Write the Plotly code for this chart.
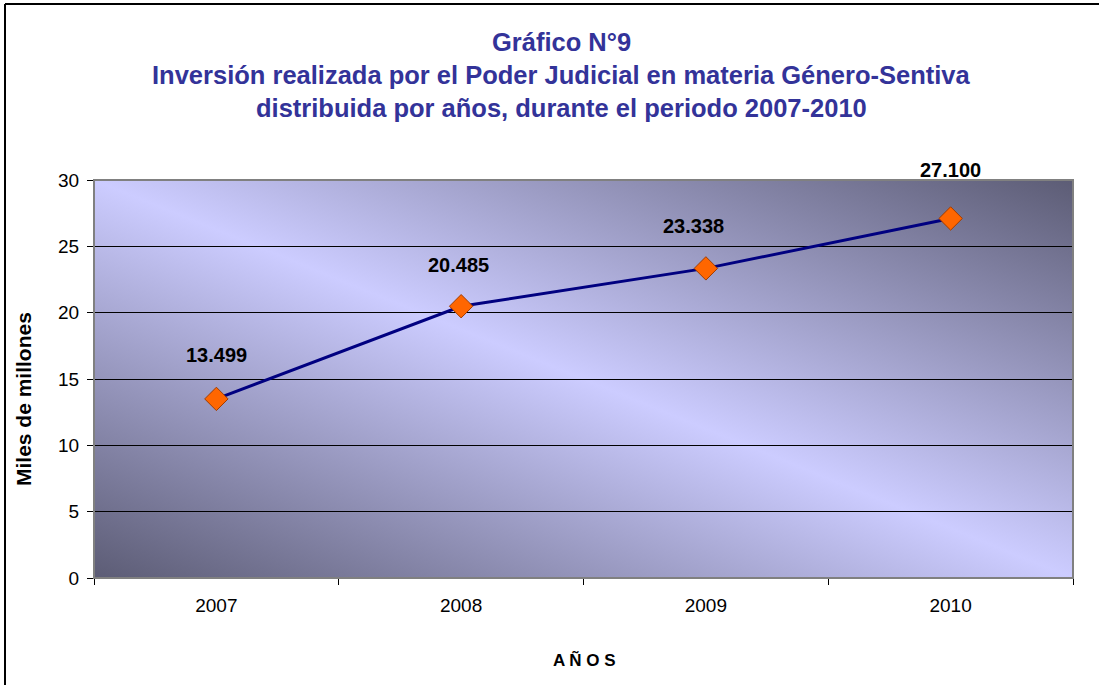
import base64
import plotly.graph_objects as go

# ---- data ----
years = ["2007", "2008", "2009", "2010"]
inversion = [13.499, 20.485, 23.338, 27.100]
labels = ["13.499", "20.485", "23.338", "27.100"]
y_ticks = [0, 5, 10, 15, 20, 25, 30]

title_lines = [
    "Gráfico N°9",
    "Inversión realizada por el Poder Judicial en materia Género-Sentiva",
    "distribuida por años, durante el periodo 2007-2010",
]

FONT = "Arial, Liberation Sans, sans-serif"
TITLE_COLOR = "#333399"

# plot area in pixels
W, H = 1099, 685
L, R, T, B = 94, 1073, 180, 578
pw, ph = R - L, B - T


def px_x(x):
    return (x - L) / pw


def px_y(y):
    return (B - y) / ph


# gradient background as svg
svg = (
    '<svg xmlns="http://www.w3.org/2000/svg" width="1000" height="400" preserveAspectRatio="none">'
    '<defs><linearGradient id="g" x1="0" y1="1" x2="1" y2="0">'
    '<stop offset="0" stop-color="#5c5c75"/>'
    '<stop offset="0.5" stop-color="#ccccff"/>'
    '<stop offset="1" stop-color="#5c5c75"/>'
    '</linearGradient></defs>'
    '<rect width="1000" height="400" fill="url(#g)"/></svg>'
)
svg_uri = "data:image/svg+xml;base64," + base64.b64encode(svg.encode()).decode()

fig = go.Figure()
fig.add_trace(go.Scatter(
    x=years, y=inversion, mode="lines+markers",
    line=dict(color="#000080", width=3),
    marker=dict(symbol="diamond", size=18, color="#FF6600",
                line=dict(color="#A03C00", width=1)),
    hoverinfo="x+y", showlegend=False,
))

annotations = []
# title lines
for txt, ypix in zip(title_lines, [42, 75, 108]):
    annotations.append(dict(
        text=f"<b>{txt}</b>", xref="paper", yref="paper",
        x=px_x(561), y=px_y(ypix), xanchor="center", yanchor="middle",
        showarrow=False, font=dict(family=FONT, size=25.5, color=TITLE_COLOR),
    ))
# data labels (category index positions on the category axis)
label_xshift = [0, -3, -12, 0]
label_yshift = [44, 41, 42, 48]
for i, (v, lab, dx, dy) in enumerate(zip(inversion, labels, label_xshift, label_yshift)):
    annotations.append(dict(
        text=f"<b>{lab}</b>", x=i, y=v, xref="x", yref="y",
        xshift=dx, yshift=dy, showarrow=False,
        xanchor="center", yanchor="middle",
        font=dict(family=FONT, size=20, color="#000000"),
    ))
# axis titles
annotations.append(dict(
    text="<b>Miles de millones</b>", xref="paper", yref="paper",
    x=px_x(23), y=px_y(399), textangle=-90, showarrow=False,
    xanchor="center", yanchor="middle",
    font=dict(family=FONT, size=21, color="#000000"),
))
annotations.append(dict(
    text="<b>A Ñ O S</b>", xref="paper", yref="paper",
    x=px_x(584), y=px_y(660), showarrow=False,
    xanchor="center", yanchor="middle",
    font=dict(family=FONT, size=17, color="#000000"),
))

shapes = [
    # plot border (gray)
    dict(type="rect", xref="paper", yref="paper", x0=0, y0=0, x1=1, y1=1,
         line=dict(color="#808080", width=2), layer="above"),
    # outer chart frame (left and top)
    dict(type="line", xref="paper", yref="paper", x0=px_x(5), x1=px_x(5),
         y0=px_y(4), y1=px_y(700), line=dict(color="#000000", width=2)),
    dict(type="line", xref="paper", yref="paper", x0=px_x(5), x1=px_x(1110),
         y0=px_y(4), y1=px_y(4), line=dict(color="#000000", width=2)),
]

fig.update_layout(
    width=W, height=H,
    margin=dict(l=L, r=W - R, t=T, b=H - B),
    paper_bgcolor="white", plot_bgcolor="rgba(0,0,0,0)",
    font=dict(family=FONT, color="#000000"),
    images=[dict(source=svg_uri, xref="paper", yref="paper", x=0, y=1,
                 sizex=1, sizey=1, sizing="stretch", layer="below",
                 xanchor="left", yanchor="top")],
    annotations=annotations, shapes=shapes,
    xaxis=dict(
        type="category", range=[-0.5, 3.5], tickson="boundaries",
        ticks="outside", ticklen=6, tickcolor="#000000",
        showline=True, linecolor="#000000", linewidth=1,
        showgrid=False, zeroline=False,
        tickfont=dict(family=FONT, size=19), ticklabelstandoff=10,
    ),
    yaxis=dict(
        range=[0, 30], tickvals=y_ticks, ticks="outside", ticklen=6,
        tickcolor="#000000", showline=True, linecolor="#000000", linewidth=1,
        showgrid=True, gridcolor="#000000", gridwidth=1, zeroline=False,
        tickfont=dict(family=FONT, size=19), ticklabelstandoff=4,
    ),
)

fig.write_html("out.html", config={"displayModeBar": False},
               post_script="document.body.style.margin='0px';")
